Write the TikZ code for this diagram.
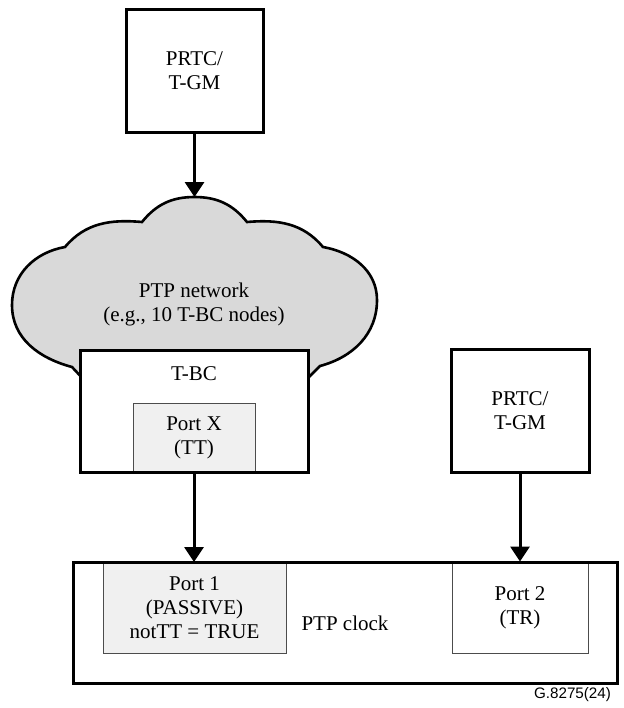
\documentclass[tikz,border=0pt]{standalone}
\usepackage{fontspec}
\setmainfont{Liberation Serif}
\newfontfamily\idfont{Liberation Sans}
\usetikzlibrary{arrows.meta}
\definecolor{cloudgray}{HTML}{D9D9D9}
\definecolor{portgray}{HTML}{F0F0F0}
\begin{document}
\begin{tikzpicture}[x=0.5pt,y=-0.5pt,
	font=\fontsize{10.5}{12}\selectfont,
	box/.style={draw,line width=1.5pt,fill=white,align=center,inner sep=0pt,outer sep=0pt},
	portbox/.style={draw=black!70,line width=0.5pt,align=center,inner sep=0pt},
	arr/.style={line width=1.5pt,-{Triangle[width=9.5pt,length=7.5pt]}}]
	\useasboundingbox (0,0) rectangle (623,708);
	% cloud
	\draw[line width=1.3pt,fill=cloudgray] (72,367) to[out=165,in=-90] (12,305) to[out=90,in=190] (65,247) to[out=50,in=175] (142,222) to[out=51,in=180] (194.5,197) to[out=0,in=129] (247,222) to[out=5,in=130] (323,247) to[out=-10,in=90] (377,300) to[out=-90,in=15] (320,366) -- (304,382) -- (86,382) -- cycle;
	\coordinate (cloudtop) at (194.5,197);
	\node[align=center] (net) at (194,304) {PTP network\\(e.g., 10 T-BC nodes)};
	\node[box,minimum width=68.5pt,minimum height=61.5pt] (gm1) at (194.5,70.5) {PRTC/\\T-GM};
	\node[box,minimum width=114pt,minimum height=61pt] (tbc) at (194,411) {};
	\node (tbclbl) at (194,374) {T-BC};
	\node[portbox,fill=portgray,minimum width=61pt,minimum height=34.5pt] (portx) at (194,437.5) {Port X\\(TT)};
	\draw[line width=1.5pt] (tbc.south west) rectangle (tbc.north east);
	\node[box,minimum width=69pt,minimum height=61.5pt] (gm2) at (520,410.5) {PRTC/\\T-GM};
	% PTP clock
	\node[portbox,fill=portgray,minimum width=91.5pt,minimum height=45.5pt] (port1) at (194.5,607.5) {Port 1\\(PASSIVE)\\notTT = TRUE};
	\node[portbox,minimum width=68pt,minimum height=45.5pt] (port2) at (520,607.5) {Port 2\\(TR)};
	\node[box,fill=none,minimum width=272pt,minimum height=60.5pt] (clock) at (345,622.5) {};
	\node (clocklbl) at (345,623) {PTP clock};
	\node[anchor=east,font=\idfont\fontsize{7.6}{9}\selectfont] (figid) at (618,695) {G.8275(24)};
	\draw[arr] (gm1.south) -- (cloudtop);
	\draw[arr] (portx.south) -- (portx.south |- clock.north);
	\draw[arr] (gm2.south) -- (port2.north);
\end{tikzpicture}
\end{document}
